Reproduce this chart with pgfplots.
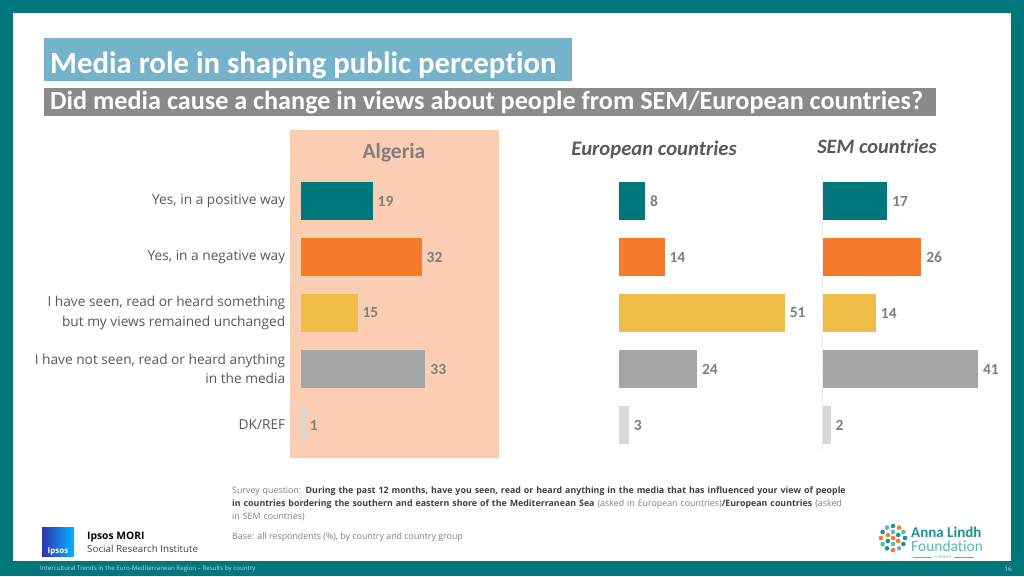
\documentclass[border=0pt]{standalone}
\usepackage{fontspec}
\setmainfont{Open Sans}
\newfontfamily\carl[Ligatures=NoCommon]{Carlito}
\usepackage{pgfplots}
\pgfplotsset{compat=1.18}

\definecolor{frameTeal}{HTML}{00767D}
\definecolor{barTeal}{HTML}{00767D}
\definecolor{barOrange}{HTML}{F47B2A}
\definecolor{barYellow}{HTML}{F0BE48}
\definecolor{barGray}{HTML}{A5A5A5}
\definecolor{barLight}{HTML}{D9D9D9}
\definecolor{peach}{HTML}{FBCDB2}
\definecolor{titleBlue}{HTML}{74B3CA}
\definecolor{subGray}{HTML}{8A8A8A}
\definecolor{labelGray}{HTML}{595959}
\definecolor{valGray}{HTML}{7F7F7F}
\definecolor{noteDark}{HTML}{404040}
\definecolor{lineGray}{HTML}{EBEBEB}
\definecolor{alfTeal}{HTML}{1F8F98}
\definecolor{alfLight}{HTML}{5CB8BF}

\pgfplotsset{
  panel/.style={
    scale only axis, xbar, bar shift=0pt, bar width=38pt,
    y dir=reverse, ymin=0.5, ymax=5.5, xmin=0,
    height=280pt, enlargelimits=false, clip=false,
    axis line style={draw=none}, tick style={draw=none},
    xtick=\empty, ytick=\empty,
    /pgf/number format/assume math mode=true,
    nodes near coords,
    nodes near coords style={font=\carl\bfseries\fontsize{15.5}{15.5}\selectfont,
      text=valGray, anchor=west, xshift=1.5pt},
  },
}
% five answers, one colour each
\newcommand\bars[5]{%
  \addplot[fill=barTeal, draw=none] coordinates {(#1,1)};
  \addplot[fill=barOrange, draw=none] coordinates {(#2,2)};
  \addplot[fill=barYellow, draw=none] coordinates {(#3,3)};
  \addplot[fill=barGray, draw=none] coordinates {(#4,4)};
  \addplot[fill=barLight, draw=none] coordinates {(#5,5)};
}

\begin{document}
\begin{tikzpicture}[x=1pt,y=1pt]
% frame
\fill[frameTeal] (0,0) rectangle (1024,576);
\fill[white] (13,15) rectangle (1011,563);

% titles
\fill[titleBlue] (44,576-81) rectangle (572,576-38);
\node[anchor=base west, inner sep=0pt, text=white,
  font=\carl\bfseries\fontsize{30.8}{30.8}\selectfont] at (50,576-74)
  {Media role in shaping public perception};
\fill[subGray] (44,576-116) rectangle (936,576-88);
\node[anchor=base west, inner sep=0pt, text=white,
  font=\carl\bfseries\fontsize{26.2}{26.2}\selectfont] at (50,576-110)
  {Did media cause a change in views about people from SEM/European countries?};

% Algeria highlight
\fill[peach] (290,576-458) rectangle (499,576-130);

% panel headings
\node[anchor=base, text=valGray, font=\carl\bfseries\fontsize{21.5}{21.5}\selectfont]
  at (394,576-159) {Algeria};
\node[anchor=base, text=labelGray, font=\carl\bfseries\itshape\fontsize{20.7}{20.7}\selectfont]
  at (654,576-156) {European countries};
\node[anchor=base, text=labelGray, font=\carl\bfseries\itshape\fontsize{20.4}{20.4}\selectfont]
  at (877,576-154) {SEM countries};

% Algeria
\begin{axis}[panel, at={(301pt,123pt)}, anchor=south west,
  xmax=50, width=188.5pt,
  ytick={1,2,3,4,5},
  yticklabel style={align=right, text=labelGray,
    font=\fontsize{13.7}{19.5}\selectfont, xshift=-8pt},
  yticklabels={{Yes, in a positive way},{Yes, in a negative way},
    {I have seen, read or heard something\\but my views remained unchanged},
    {I have not seen, read or heard anything\\in the media},{DK/REF}},
]
\bars{19}{32}{15}{33}{1}
\end{axis}

% European countries
\begin{axis}[panel, at={(619pt,123pt)}, anchor=south west,
  xmax=60, width=195pt]
\bars{8}{14}{51}{24}{3}
\end{axis}

% SEM countries
\begin{axis}[panel, at={(823pt,123pt)}, anchor=south west,
  xmax=45, width=170.1pt]
\draw[lineGray] (axis cs:-0.3,0.52) -- (axis cs:-0.3,5.45);
\draw[lineGray] (axis cs:-0.3,1.5) -- ++(-5pt,0);
\draw[lineGray] (axis cs:-0.3,2.5) -- ++(-5pt,0);
\draw[lineGray] (axis cs:-0.3,3.5) -- ++(-5pt,0);
\draw[lineGray] (axis cs:-0.3,4.5) -- ++(-5pt,0);
\bars{17}{26}{14}{41}{2}
\end{axis}

% footnote
\node[anchor=north west, inner sep=0pt, text width=640pt, align=left,
  text=valGray, font=\fontsize{8.85}{13}\selectfont] at (232,576-487)
  {Survey question: \textcolor{noteDark}{\bfseries During the past 12 months, have you seen, read or heard anything in the media that has influenced your view of people}\\\textcolor{noteDark}{\bfseries in countries bordering the southern and eastern shore of the Mediterranean Sea} (asked in European countries)\textcolor{noteDark}{\bfseries/European countries} (asked\\in SEM countries)};
\node[anchor=base west, inner sep=0pt, text=valGray,
  font=\fontsize{8.85}{13}\selectfont] at (232,576-539)
  {Base: all respondents (\%), by country and country group};

% Ipsos logo
\shade[left color=blue!60!black!80, right color=cyan!70!blue] (42,576-556) rectangle (74,576-527);
\node[anchor=base, text=white, inner sep=0pt, font=\bfseries\fontsize{8}{8}\selectfont]
  at (58,576-553) {Ipsos};
\node[anchor=base west, inner sep=0pt, text=black, font=\bfseries\fontsize{10.3}{10.3}\selectfont]
  at (87,576-539) {Ipsos MORI};
\node[anchor=base west, inner sep=0pt, text=labelGray!80!black, font=\fontsize{9.8}{9.8}\selectfont]
  at (87,576-552) {Social Research Institute};

% Anna Lindh logo
\foreach \a/\r/\c in {0/0/barOrange,30/6/alfTeal,90/6/alfLight,150/6/barOrange,210/6/alfTeal,270/6/alfLight,330/6/barOrange,
  0/12/alfTeal,30/12/alfLight,60/12/barOrange,90/12/alfTeal,120/12/alfLight,150/12/alfTeal,180/12/barOrange,
  210/12/alfLight,240/12/alfTeal,270/12/barOrange,300/12/alfLight,330/12/alfTeal}
  \fill[\c] (893,576-538) ++(\a:\r) circle (2.3);
\node[anchor=base west, inner sep=0pt, text=alfTeal, font=\carl\bfseries\fontsize{15}{15}\selectfont]
  at (911,576-537) {Anna Lindh};
\node[anchor=base west, inner sep=0pt, text=alfLight, font=\carl\fontsize{15.5}{15.5}\selectfont]
  at (911,576-551) {Foundation};
\node[text=alfLight, inner sep=0pt, font=\fontsize{3.5}{3.5}\selectfont] at (943,576-557) {EUROMED};
\draw[alfLight, line width=0.5pt] (913,576-557) -- (932,576-557) (954,576-557) -- (974,576-557);

% bottom strip
\node[anchor=west, inner sep=0pt, text=white!75!frameTeal, font=\fontsize{6.2}{6.2}\selectfont]
  at (40,576-569) {Intercultural Trends in the Euro-Mediterranean Region -- Results by country};
\node[anchor=center, inner sep=0pt, text=white!75!frameTeal, font=\fontsize{6.5}{6.5}\selectfont]
  at (1008,576-569) {16};
\end{tikzpicture}
\end{document}
